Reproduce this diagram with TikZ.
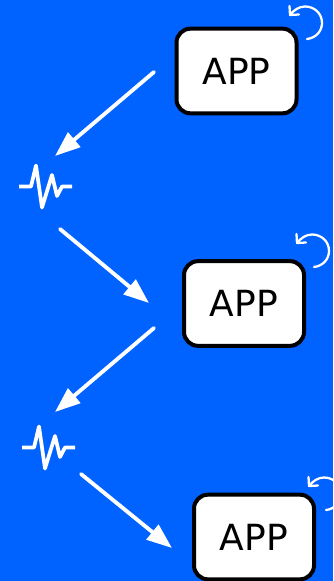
\documentclass[tikz,border=0pt]{standalone}
\usepackage{fontspec}
\setmainfont{DejaVu Sans}
\usetikzlibrary{arrows.meta}
\definecolor{bluebg}{HTML}{0062FF}
\tikzset{
  appbox/.style={draw=black,fill=white,line width=3pt,rounded corners=10.5pt,inner sep=0pt,
    minimum width=90pt,minimum height=63.5pt,font=\fontsize{27}{30}\selectfont,text=black},
  flow/.style={draw=white,line width=2.9pt,line cap=round,-{Triangle[length=19pt,width=14pt]}},
  pulseline/.style={draw=white,line width=2.8pt,line join=round},
  spin/.style={draw=white,line width=1.7pt,line cap=round,line join=round}
}
\newcommand{\pulseicon}[2]{%
  \draw[pulseline,shift={(#1,#2)}] (19,186.5) -- (31,186.5) -- (36,165.5) -- (42,207.5) -- (52,175) -- (57,196) -- (62,186.5) -- (72,186.5);}
\newcommand{\spinicon}[2]{%
  \begin{scope}[shift={(#1,#2)}]
  \draw[spin] (307,39) .. controls (316,38) and (322,31) .. (322,23) .. controls (322,13) and (314,6.5) .. (305,6.5) .. controls (299,6.5) and (294,10) .. (290,15);
  \draw[spin] (289.5,6) -- (290,15) -- (299,14.5);
  \end{scope}}
\begin{document}
\begin{tikzpicture}[x=0.75pt,y=-0.75pt]
\useasboundingbox (0,0) rectangle (333,581);
\clip (0,0) rectangle (333,581);
\fill[bluebg] (0,0) rectangle (333,581);
\node[appbox] (a1) at (236.5,71) {APP};
\node[appbox] (a2) at (244,303.5) {APP};
\node[appbox] (a3) at (254,537) {APP};
\coordinate (s1) at (154,72); \coordinate (t1) at (55,156);
\coordinate (s2) at (60,229); \coordinate (t2) at (149,303);
\coordinate (s3) at (154,328); \coordinate (t3) at (55,412);
\coordinate (s4) at (81,474); \coordinate (t4) at (172,548);
\draw[flow] (s1) -- (t1);
\draw[flow] (s2) -- (t2);
\draw[flow] (s3) -- (t3);
\draw[flow] (s4) -- (t4);
\pulseicon{0}{0}
\pulseicon{3}{261}
\spinicon{0}{0}
\spinicon{7}{228}
\spinicon{19}{471}
\end{tikzpicture}
\end{document}
